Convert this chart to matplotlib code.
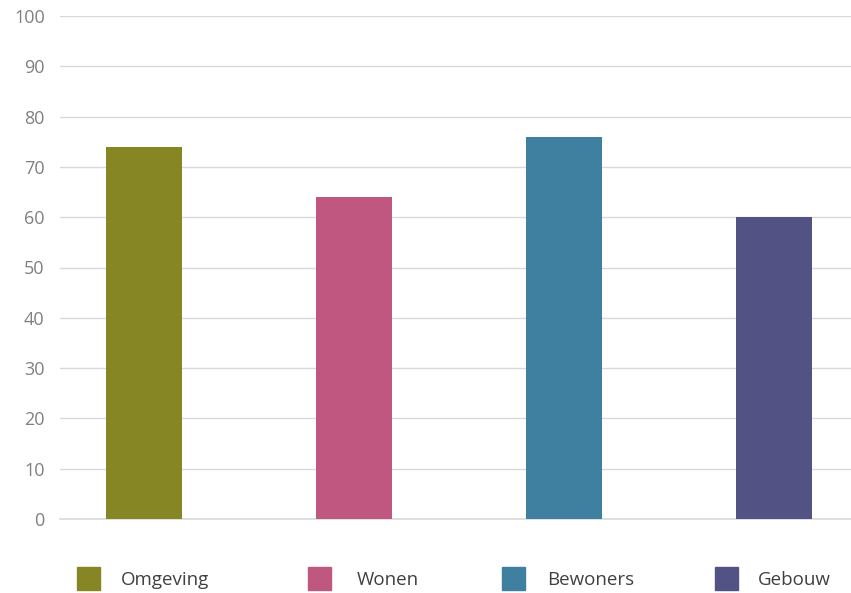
import matplotlib
matplotlib.use('Agg')
import matplotlib.pyplot as plt
from matplotlib.patches import Rectangle

categories = ['Omgeving', 'Wonen', 'Bewoners', 'Gebouw']
values = [74, 64, 76, 60]
colors = ['#868624', '#C05780', '#3F80A0', '#525284']
yticks = [0, 10, 20, 30, 40, 50, 60, 70, 80, 90, 100]

W, H = 851, 593
plt.rcParams['font.family'] = ['Open Sans', 'DejaVu Sans']

fig = plt.figure(figsize=(W / 100, H / 100), dpi=100)
# plot area: x 60..851 px, y 0 at 519 px, 100 at 16 px
ax = fig.add_axes([60 / W, (H - 519) / H, (W - 60) / W, (519 - 16) / H])

x = list(range(len(categories)))
ax.bar(x, values, width=76 / 210, color=colors, zorder=3)

ax.set_xlim(-84 / 210, -84 / 210 + 791 / 210)
ax.set_ylim(0, 100)
ax.set_yticks(yticks)
ax.set_xticks([])
ax.yaxis.grid(True, color='#D9D9D9', linewidth=1.0, zorder=0)
ax.tick_params(axis='y', length=0, pad=11, labelsize=13, labelcolor='#808080')
for s in ax.spines.values():
    s.set_visible(False)
ax.axhline(0, color='#D9D9D9', linewidth=1.2, zorder=2, clip_on=False)

# legend drawn by hand at the bottom
box_left = [77, 308, 502, 715]
text_left = [121, 357, 547, 758]
for i, name in enumerate(categories):
    fig.add_artist(Rectangle((box_left[i] / W, (H - 590) / H), 23 / W, 23 / H,
                             transform=fig.transFigure, color=colors[i]))
    fig.text(text_left[i] / W, (H - 580) / H, name, fontsize=13.5,
             color='#404040', va='center', ha='left')

fig.savefig('out.png', dpi=100)
